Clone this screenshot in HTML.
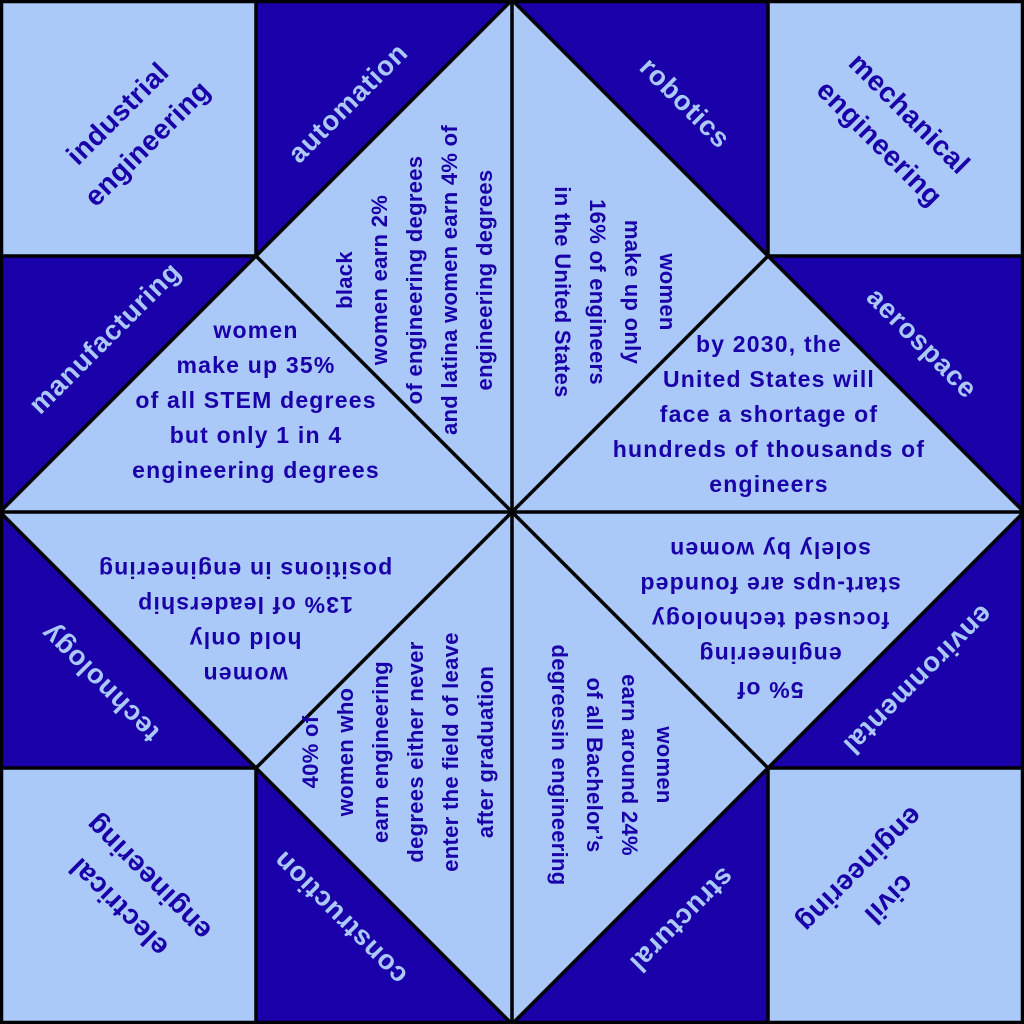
<!DOCTYPE html>
<html><head><meta charset="utf-8"><style>
html,body{margin:0;padding:0;background:#aac8f8}
svg{display:block}
text{font-family:"Liberation Sans",sans-serif;font-weight:bold;fill:#1a00a8}
.c{font-size:28px;letter-spacing:0.5px}
.d{font-size:27.5px;fill:#aac8f8;letter-spacing:0.8px}
.m{font-size:23px;letter-spacing:1.2px}
.v{font-size:22px;letter-spacing:0.3px}
</style></head><body>
<svg width="1024" height="1024" viewBox="0 0 1024 1024" xmlns="http://www.w3.org/2000/svg">
<rect x="0" y="0" width="1024" height="1024" fill="#aac8f8"/>
<g fill="#1a00a8">
<polygon points="256,0 512,0 256,256"/>
<polygon points="0,256 256,256 0,512"/>
<polygon points="512,0 768,0 768,256"/>
<polygon points="768,256 1024,256 1024,512"/>
<polygon points="1024,512 1024,768 768,768"/>
<polygon points="768,768 768,1024 512,1024"/>
<polygon points="512,1024 256,1024 256,768"/>
<polygon points="256,768 0,768 0,512"/>
</g>
<g stroke="#000" stroke-width="3.5" fill="none">
<rect x="1.5" y="1.5" width="1021" height="1021"/>
<line x1="256" y1="0" x2="256" y2="256"/>
<line x1="0" y1="256" x2="256" y2="256"/>
<line x1="768" y1="0" x2="768" y2="256"/>
<line x1="768" y1="256" x2="1024" y2="256"/>
<line x1="0" y1="768" x2="256" y2="768"/>
<line x1="256" y1="768" x2="256" y2="1024"/>
<line x1="768" y1="768" x2="1024" y2="768"/>
<line x1="768" y1="768" x2="768" y2="1024"/>
<line x1="512" y1="0" x2="512" y2="1024"/>
<line x1="0" y1="512" x2="1024" y2="512"/>
<polygon points="512,0 1024,512 512,1024 0,512"/>
<line x1="256" y1="256" x2="768" y2="768"/>
<line x1="768" y1="256" x2="256" y2="768"/>
</g>

<text class="c" text-anchor="middle" transform="translate(132,128) rotate(-45)"><tspan x="0" y="-11">industrial</tspan><tspan x="0" y="31">engineering</tspan></text>
<text class="c" text-anchor="middle" transform="translate(895,128) rotate(45)"><tspan x="0" y="-11">mechanical</tspan><tspan x="0" y="31">engineering</tspan></text>
<text class="c" text-anchor="middle" transform="translate(133,893) rotate(225)"><tspan x="0" y="-11">electrical</tspan><tspan x="0" y="31">engineering</tspan></text>
<text class="c" text-anchor="middle" transform="translate(875,885) rotate(135)"><tspan x="0" y="-11">civil</tspan><tspan x="0" y="31">engineering</tspan></text>

<text class="d" text-anchor="middle" transform="translate(348,103) rotate(-45)" y="9">automation</text>
<text class="d" text-anchor="middle" transform="translate(105,338) rotate(-45)" y="9">manufacturing</text>
<text class="d" text-anchor="middle" transform="translate(685,103) rotate(45)" y="9">robotics</text>
<text class="d" text-anchor="middle" transform="translate(922,343) rotate(45)" y="9">aerospace</text>
<text class="d" text-anchor="middle" transform="translate(918,680) rotate(135)" y="9">environmental</text>
<text class="d" text-anchor="middle" transform="translate(682,920) rotate(135)" y="9">structural</text>
<text class="d" text-anchor="middle" transform="translate(340,918) rotate(225)" y="9">construction</text>
<text class="d" text-anchor="middle" transform="translate(100,683) rotate(225)" y="9">technology</text>

<text class="m" text-anchor="middle" transform="translate(256,401)">
<tspan x="0" y="-63">women</tspan><tspan x="0" y="-28">make up 35%</tspan><tspan x="0" y="7">of all STEM degrees</tspan><tspan x="0" y="42">but only 1 in 4</tspan><tspan x="0" y="77">engineering degrees</tspan></text>

<text class="m" text-anchor="middle" transform="translate(769,415)">
<tspan x="0" y="-63">by 2030, the</tspan><tspan x="0" y="-28">United States will</tspan><tspan x="0" y="7">face a shortage of</tspan><tspan x="0" y="42">hundreds of thousands of</tspan><tspan x="0" y="77">engineers</tspan></text>

<text class="m" text-anchor="middle" transform="translate(245,622) rotate(180)">
<tspan x="0" y="-45">women</tspan><tspan x="0" y="-10">hold only</tspan><tspan x="0" y="25">13% of leadership</tspan><tspan x="0" y="60">positions in engineering</tspan></text>

<text class="m" text-anchor="middle" transform="translate(770,619) rotate(180)">
<tspan x="0" y="-63">5% of</tspan><tspan x="0" y="-28">engineering</tspan><tspan x="0" y="7">focused technology</tspan><tspan x="0" y="42">start-ups are founded</tspan><tspan x="0" y="77">solely by women</tspan></text>

<text class="v" text-anchor="middle" transform="translate(415,280) rotate(-90)">
<tspan x="0" y="-63">black</tspan><tspan x="0" y="-28">women earn 2%</tspan><tspan x="0" y="7">of engineering degrees</tspan><tspan x="0" y="42">and latina women earn 4% of</tspan><tspan x="0" y="77">engineering degrees</tspan></text>

<text class="v" text-anchor="middle" transform="translate(615,292) rotate(90)">
<tspan x="0" y="-45">women</tspan><tspan x="0" y="-10">make up only</tspan><tspan x="0" y="25">16% of engineers</tspan><tspan x="0" y="60">in the United States</tspan></text>

<text class="v" text-anchor="middle" transform="translate(398,752) rotate(-90)">
<tspan x="0" y="-80">40% of</tspan><tspan x="0" y="-45">women who</tspan><tspan x="0" y="-10">earn engineering</tspan><tspan x="0" y="25">degrees either never</tspan><tspan x="0" y="60">enter the field of leave</tspan><tspan x="0" y="95">after graduation</tspan></text>

<text class="v" text-anchor="middle" transform="translate(612,765) rotate(90)">
<tspan x="0" y="-45">women</tspan><tspan x="0" y="-10">earn around 24%</tspan><tspan x="0" y="25">of all Bachelor’s</tspan><tspan x="0" y="60">degreesin engineering</tspan></text>
</svg>
</body></html>
